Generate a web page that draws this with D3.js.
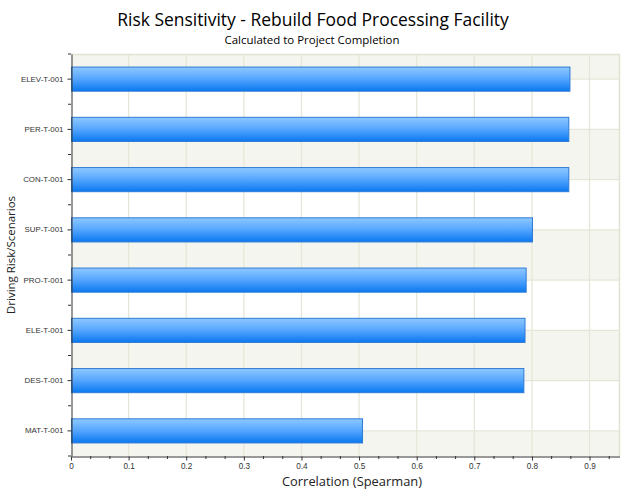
<!DOCTYPE html>
<html>
<head>
<meta charset="utf-8">
<script src="https://cdn.jsdelivr.net/npm/d3@7"></script>
<style>
  html, body { margin: 0; padding: 0; background: #ffffff; }
  svg { display: block; }
</style>
</head>
<body>
<script>
// ---- Data ----
const categories = ["ELEV-T-001", "PER-T-001", "CON-T-001", "SUP-T-001", "PRO-T-001", "ELE-T-001", "DES-T-001", "MAT-T-001"];
const correlations = [0.866, 0.864, 0.864, 0.801, 0.790, 0.788, 0.786, 0.506];
const xTickValues = [0, 0.1, 0.2, 0.3, 0.4, 0.5, 0.6, 0.7, 0.8, 0.9];
const xTickLabels = ["0", "0.1", "0.2", "0.3", "0.4", "0.5", "0.6", "0.7", "0.8", "0.9"];
const titleText = "Risk Sensitivity - Rebuild Food Processing Facility";
const subtitleText = "Calculated to Project Completion";
const xAxisTitle = "Correlation (Spearman)";
const yAxisTitle = "Driving Risk/Scenarios";

// ---- Layout ----
const W = 624, H = 494;
const plot = { left: 71, right: 619.5, top: 54, bottom: 456 };
const fontFamily = "'Liberation Sans', Arial, sans-serif";

const svg = d3.select("body").append("svg").attr("width", W).attr("height", H);

const defs = svg.append("defs");
const grad = defs.append("linearGradient").attr("id", "barGrad")
  .attr("x1", 0).attr("y1", 0).attr("x2", 0).attr("y2", 1);
grad.append("stop").attr("offset", "0%").attr("stop-color", "#8ec8ff");
grad.append("stop").attr("offset", "45%").attr("stop-color", "#5aa9ff");
grad.append("stop").attr("offset", "100%").attr("stop-color", "#0a78f0");

const x = d3.scaleLinear().domain([0, 0.952]).range([plot.left, plot.right]);
const y = d3.scaleBand().domain(categories).range([plot.top, plot.bottom])
  .paddingInner(0.5).paddingOuter(0.25);
const centers = categories.map(c => y(c) + y.bandwidth() / 2);

// ---- Alternating bands between category centers ----
const bounds = [plot.top, ...centers, plot.bottom];
const segs = d3.range(bounds.length - 1).map(i => ({ i, y0: bounds[i], y1: bounds[i + 1] }));
svg.append("g").selectAll("rect").data(segs).join("rect")
  .attr("x", plot.left).attr("width", plot.right - plot.left)
  .attr("y", d => d.y0).attr("height", d => d.y1 - d.y0)
  .attr("fill", d => d.i % 2 === 0 ? "#f5f5f0" : "#ffffff");

// ---- Grid lines ----
const gridColor = "#e6e6d8";
svg.append("g").selectAll("line").data(xTickValues.slice(1)).join("line")
  .attr("x1", d => x(d)).attr("x2", d => x(d))
  .attr("y1", plot.top).attr("y2", plot.bottom)
  .attr("stroke", gridColor).attr("stroke-width", 1.3);
svg.append("g").selectAll("line").data(centers).join("line")
  .attr("x1", plot.left).attr("x2", plot.right)
  .attr("y1", d => d).attr("y2", d => d)
  .attr("stroke", gridColor).attr("stroke-width", 1.3);
// frame (top and right)
svg.append("line").attr("x1", plot.left).attr("x2", plot.right).attr("y1", plot.top + 0.5).attr("y2", plot.top + 0.5)
  .attr("stroke", "#e2e2d2").attr("stroke-width", 1.5);
svg.append("line").attr("x1", plot.right).attr("x2", plot.right).attr("y1", plot.top).attr("y2", plot.bottom)
  .attr("stroke", "#e2e2d2").attr("stroke-width", 1.5);

// ---- Bars ----
svg.append("g").selectAll("rect").data(categories).join("rect")
  .attr("x", plot.left + 0.5)
  .attr("y", d => y(d) + 0.5)
  .attr("width", (d, i) => x(correlations[i]) - plot.left - 0.5)
  .attr("height", y.bandwidth() - 1)
  .attr("fill", "url(#barGrad)")
  .attr("stroke", "#2f7bd4").attr("stroke-width", 1);

// ---- X axis ----
const xAxisMinor = d3.axisBottom(x)
  .tickValues(d3.range(0, 0.952, 0.1 / 3).filter((v, i) => i % 3 !== 0))
  .tickSize(3).tickFormat("");
svg.append("g").attr("transform", `translate(0,${plot.bottom})`).call(xAxisMinor)
  .call(g => g.select(".domain").remove())
  .call(g => g.selectAll("line").attr("stroke", "#333"));
const xAxis = d3.axisBottom(x).tickValues(xTickValues)
  .tickFormat((d, i) => xTickLabels[i]).tickSize(4).tickSizeOuter(0).tickPadding(3);
svg.append("g").attr("transform", `translate(0,${plot.bottom + 0.5})`).call(xAxis)
  .call(g => g.select(".domain").attr("stroke", "#333"))
  .call(g => g.selectAll("line").attr("stroke", "#333"))
  .call(g => g.selectAll("text").attr("fill", "#333").style("font-family", fontFamily).style("font-size", "8.2px"));

// ---- Y axis ----
const yAxis = d3.axisLeft(y).tickSize(4).tickSizeOuter(0).tickPadding(4);
svg.append("g").attr("transform", `translate(${plot.left + 0.5},0)`).call(yAxis)
  .call(g => g.select(".domain").attr("stroke", "#333"))
  .call(g => g.selectAll("line").attr("stroke", "#333"))
  .call(g => g.selectAll("text").attr("fill", "#333").style("font-family", fontFamily).style("font-size", "7.9px"));
// minor ticks between categories
const minorY = [plot.top, ...centers.slice(0, -1).map(c => c + y.step() / 2), plot.bottom];
svg.append("g").selectAll("line").data(minorY).join("line")
  .attr("x1", plot.left - 3).attr("x2", plot.left)
  .attr("y1", d => d).attr("y2", d => d)
  .attr("stroke", "#333");

// ---- Titles ----
function fit(sel, target) {
  const w = sel.node().getComputedTextLength();
  const fs = parseFloat(sel.style("font-size"));
  sel.style("font-size", (fs * target / w).toFixed(2) + "px");
}
const titleFont = "'Open Sans', 'Liberation Sans', sans-serif";
const t = svg.append("text").attr("x", 313).attr("y", 26).attr("text-anchor", "middle")
  .style("font-family", titleFont).style("font-size", "19px").attr("fill", "#000").text(titleText);
fit(t, 392);
const st = svg.append("text").attr("x", 312).attr("y", 44).attr("text-anchor", "middle")
  .style("font-family", titleFont).style("font-size", "12px").attr("fill", "#000").text(subtitleText);
fit(st, 175);
const xt = svg.append("text").attr("x", 352).attr("y", 486).attr("text-anchor", "middle")
  .style("font-family", titleFont).style("font-size", "12px").attr("fill", "#222").text(xAxisTitle);
fit(xt, 140);
const yt = svg.append("text").attr("transform", `translate(15,${(plot.top + plot.bottom) / 2}) rotate(-90)`)
  .attr("text-anchor", "middle")
  .style("font-family", titleFont).style("font-size", "12px").attr("fill", "#222").text(yAxisTitle);
fit(yt, 118);
</script>
</body>
</html>
